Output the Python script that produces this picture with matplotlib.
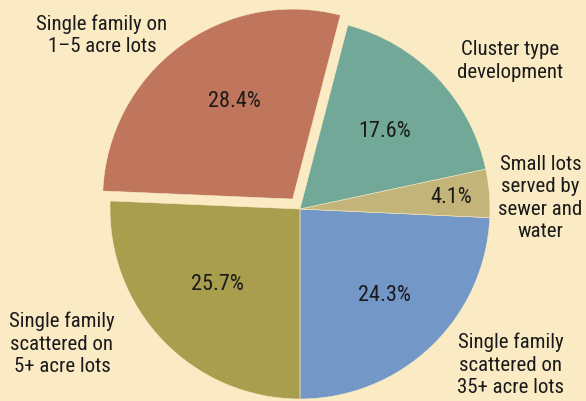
import matplotlib.pyplot as plt
import numpy as np

# data (counter-clockwise from the bottom)
labels = ['Single family\nscattered on\n35+ acre lots',
          'Small lots\nserved by\nsewer and\nwater',
          'Cluster type\ndevelopment',
          'Single family on\n1\u20135 acre lots',
          'Single family\nscattered on\n5+ acre lots']
shares = [24.3, 4.1, 17.6, 28.4, 25.7]
colors = ['#7398c7', '#c3b579', '#72a898', '#c0765c', '#a89e4e']
explode = [0, 0, 0, 0.065, 0]
pct_dist = [0.63, 0.80, 0.61, 0.60, 0.585]
pct_turn = [1, 0, -1, -6, -1.5]
# label spots in data units (radius = 1)
label_xy = [(1.11, -0.815), (1.265, 0.063), (1.105, 0.784), (-1.042, 0.921), (-1.253, -0.705)]

bg = '#fbebc5'
plt.rcParams['font.family'] = ['Liberation Sans Narrow', 'DejaVu Sans Condensed',
                               'Roboto Condensed', 'Open Sans Condensed', 'Liberation Sans']

fig = plt.figure(figsize=(5.86, 4.02), dpi=100)
fig.patch.set_facecolor(bg)
ax = fig.add_axes([0, 0, 1, 1])
ax.set_facecolor(bg)

wedges, texts = ax.pie(shares, colors=colors, explode=explode, startangle=270,
                       counterclock=True, radius=1,
                       wedgeprops=dict(edgecolor=bg, linewidth=0.4))

for w, d, t, v in zip(wedges, pct_dist, pct_turn, shares):
    ang = np.deg2rad((w.theta1 + w.theta2) / 2 + t)
    cx, cy = w.center
    ax.text(cx + d * np.cos(ang), cy + d * np.sin(ang), f'{v}%',
            ha='center', va='center', fontsize=16, color='#1a1a1a')

for (x, y), t in zip(label_xy, labels):
    ax.text(x, y, t, ha='center', va='center', fontsize=15, color='#1a1a1a',
            linespacing=1.22)

ax.set_xlim(-300 / 190, 286 / 190)
ax.set_ylim(-192 / 190, 210 / 190)
ax.set_aspect('auto')
ax.axis('off')

fig.savefig('out.png', dpi=100, facecolor=bg)
